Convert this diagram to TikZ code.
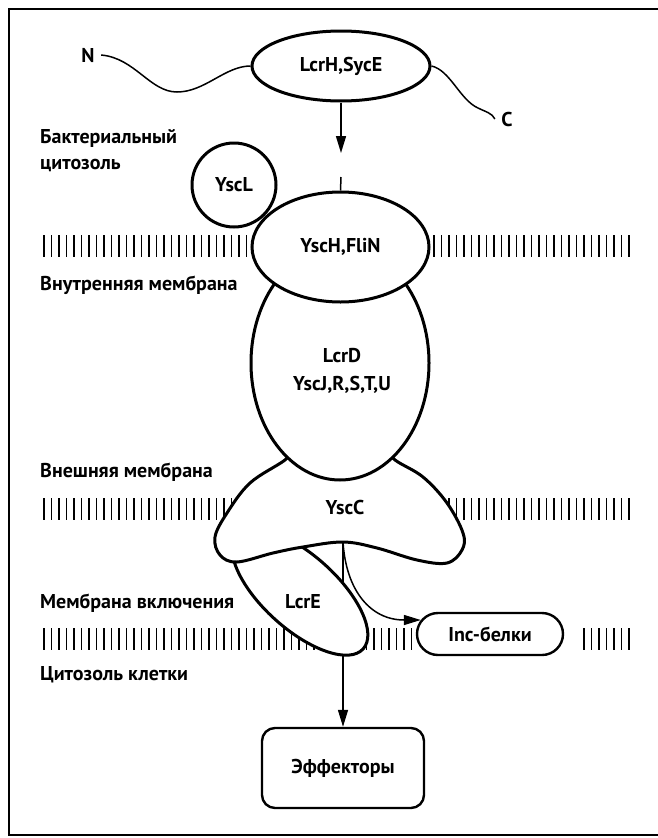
\documentclass[tikz,border=0pt]{standalone}
\usepackage{fontspec}
\setmainfont{PT Sans}
\usetikzlibrary{shapes.geometric,arrows.meta}
\begin{document}
\begin{tikzpicture}[x=1pt,y=-1pt,
  every node/.style={font=\fontsize{20}{23}\selectfont\bfseries},
  blob/.style={draw, line width=3pt, fill=white, inner sep=0pt},
  oval/.style={blob, ellipse},
  boxed/.style={draw, line width=2.4pt, fill=white, inner sep=0pt},
  conn/.style={line width=1.5pt},
  arr/.style={conn, -{Triangle[length=17pt,width=10pt]}},
  tickmark/.style={line width=1.4pt},
  lbl/.style={anchor=west, inner sep=0pt},
]
\useasboundingbox (0,0) rectangle (657,838);
% outer frame (right side runs past the page edge)
\draw[line width=1.8pt] (700,9) -- (9,9) -- (9,835) -- (700,835);

% membranes drawn as rows of short bars
\foreach \x in {44,51.5,...,633} \draw[tickmark] (\x,235) -- (\x,257);
\foreach \x in {44,51.5,...,633} \draw[tickmark] (\x,498) -- (\x,520);
\foreach \x in {44,51.5,...,413} \draw[tickmark] (\x,628) -- (\x,650);
\foreach \x in {584,591.5,...,633} \draw[tickmark] (\x,628) -- (\x,650);

% side labels
\node[lbl] (bact1) at (40,138) {Бактериальный};
\node[lbl] (bact2) at (40,165) {цитозоль};
\node[lbl] (inner) at (40,285) {Внутренняя мембрана};
\node[lbl] (outer) at (40,472) {Внешняя мембрана};
\node[lbl] (incl) at (40,603) {Мембрана включения};
\node[lbl] (hostcyt) at (40,675) {Цитозоль клетки};

% target boxes
\node[boxed, rounded corners=21pt, minimum width=146pt, minimum height=42pt] (inc) at (490,634) {Inc-белки};
\node[boxed, rounded corners=13pt, minimum width=162pt, minimum height=80pt] (eff) at (343,768) {Эффекторы};

% secretion routes leaving the YscC channel
\coordinate (notch) at (343,542);
\draw[arr] (notch) -- (eff.north);
\draw[arr] (notch) .. controls (346,590) and (370,620) .. ([xshift=5pt,yshift=14pt]inc.west);

% LcrE in the inclusion membrane
\node[oval, minimum width=170pt, minimum height=74pt, rotate=-42] (lcre) at (300,592) {};
\node (lcrelabel) at (303,602) {LcrE};

% YscC outer-membrane ring
\draw[line width=3pt, fill=white] plot[smooth cycle, tension=0.6] coordinates {
  (300,445) (285,460) (250,483) (227,513) (215,537) (220,555) (237,562)
  (273,553) (303,547) (343,542) (377,548) (417,560) (447,563) (462,550)
  (463,533) (447,503) (423,477) (395,460) (380,445)};
\node (ysccl) at (345,507) {YscC};

% inner-membrane export apparatus
\node[oval, minimum width=178pt, minimum height=234pt] (lcrd) at (340,363) {};
\node[align=center, font=\fontsize{20}{28}\selectfont\bfseries] (lcrdlabel) at (342,371) {LcrD\\YscJ,R,S,T,U};
\node[oval, circle, minimum size=84pt] (yscl) at (234,185) {YscL};
\node[oval, minimum width=177pt, minimum height=110pt] (ysch) at (340.5,247) {YscH,FliN};

% chaperone complex with the N and C ends of the substrate
\node[oval, minimum width=178pt, minimum height=70pt] (lcrh) at (341,66) {LcrH,SycE};
\node (nlab) at (88,55) {N};
\node (clab) at (507,119) {C};
\draw[conn] ([xshift=3pt]nlab.east) .. controls (135,58) and (150,92) .. (177,92)
  .. controls (205,92) and (225,66) .. (lcrh.west);
\draw[conn] (lcrh.east) .. controls (450,70) and (460,100) .. (478,108)
  .. controls (486,112) and (492,113) .. ([xshift=-3pt]clab.west);
\coordinate (tip) at (341,153);
\draw[arr] (lcrh.south) -- (tip);
\coordinate (stub) at (341,177);
\draw[conn] (stub) -- (ysch.north);
\end{tikzpicture}
\end{document}
